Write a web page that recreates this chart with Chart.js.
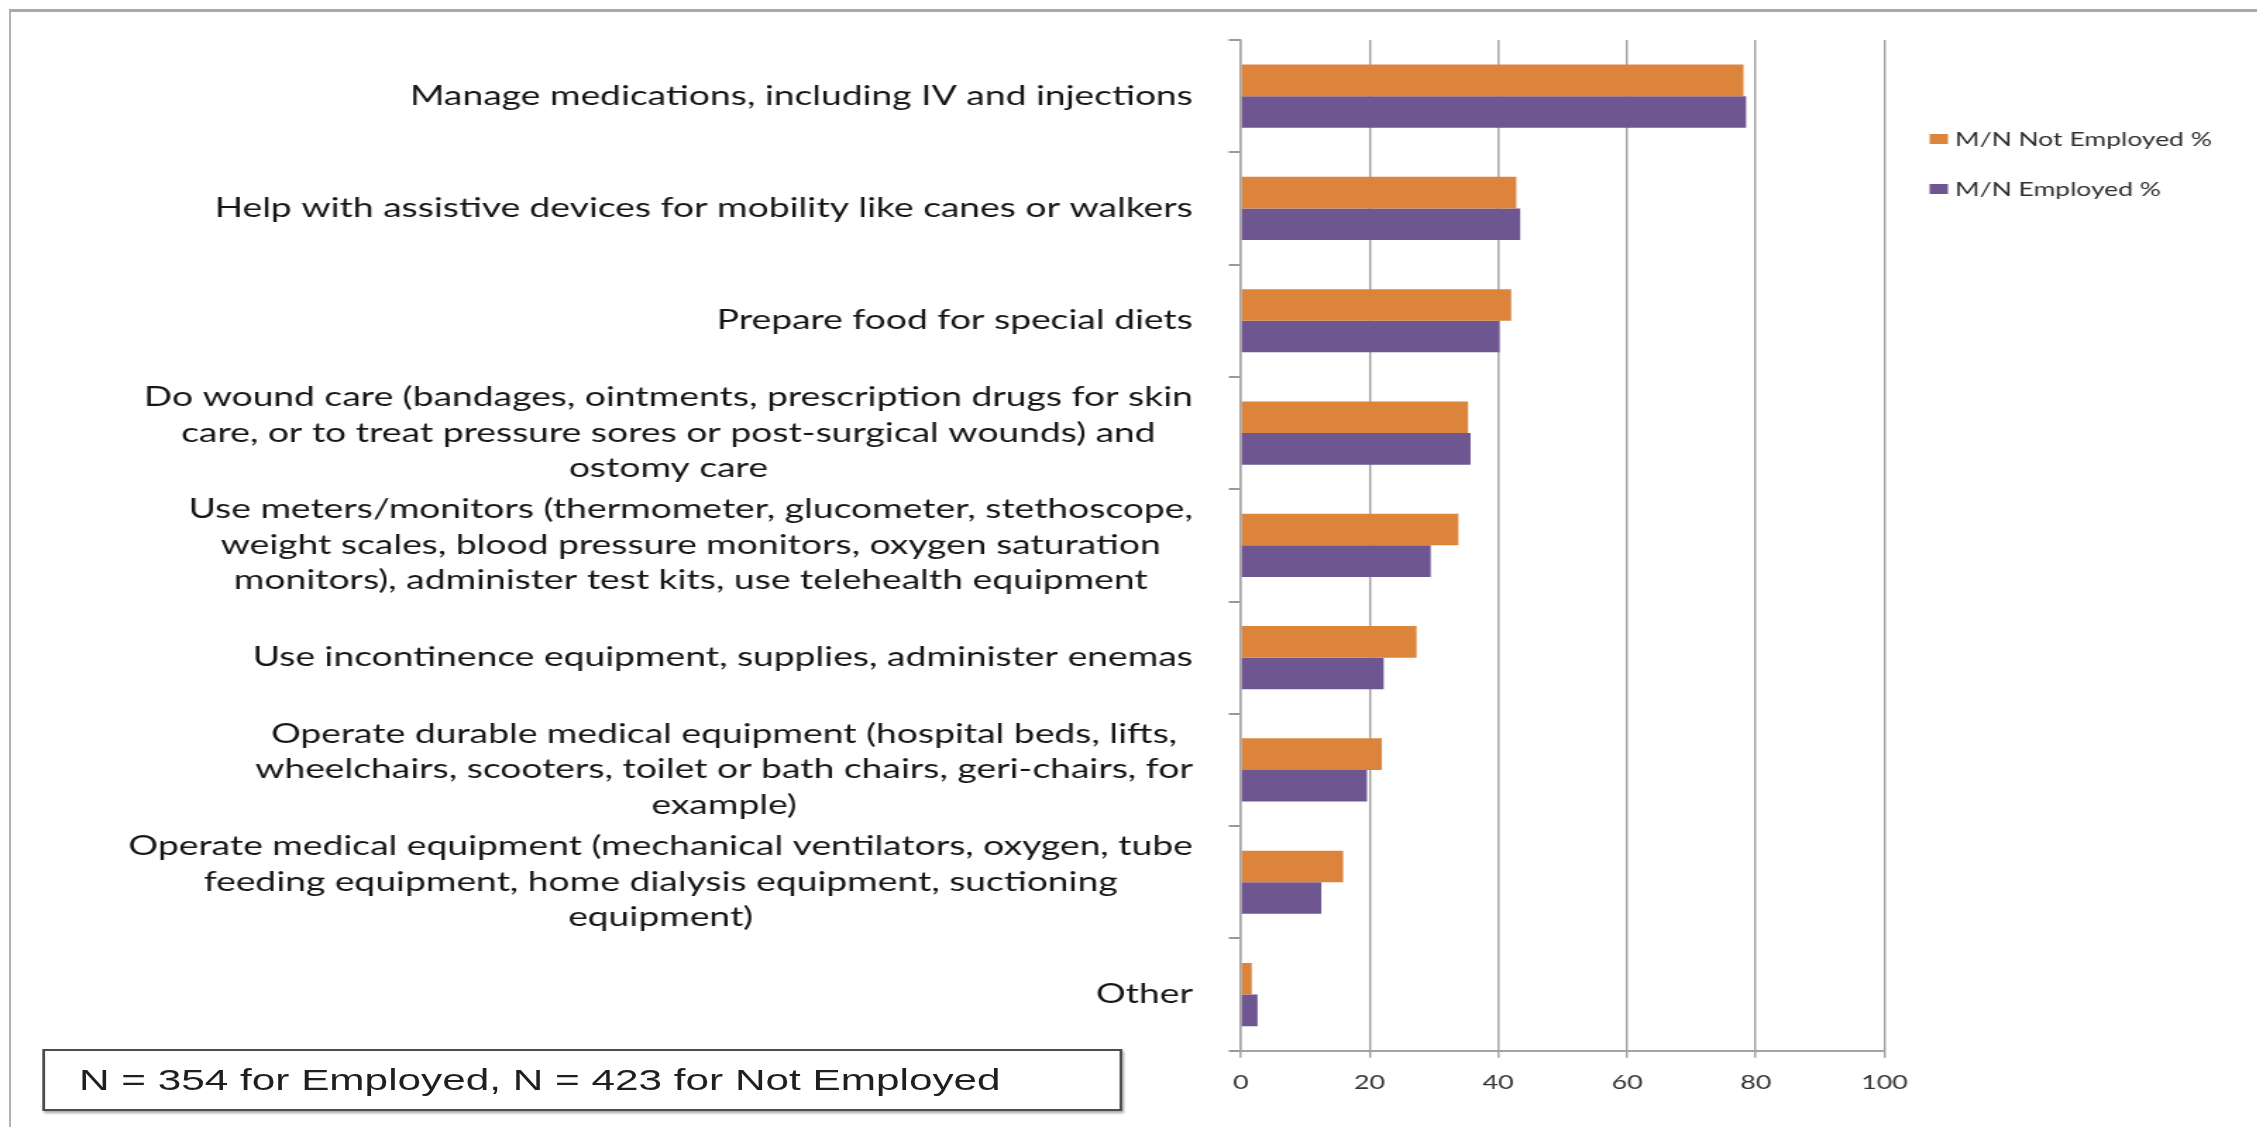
<!DOCTYPE html>
<html>
<head>
<meta charset="utf-8">
<title>Medical/nursing tasks by employment status</title>
<script src="https://cdn.jsdelivr.net/npm/chart.js@4.4.1/dist/chart.umd.min.js"></script>
<style>
    html, body { margin: 0; padding: 0; background: #fff; }
    body { width: 2257px; height: 1127px; position: relative; overflow: hidden; }
    #frame {
        position: absolute; left: 9px; top: 9px; width: 2300px; height: 1200px;
        border-top: 3px solid #a9a9a9; border-left: 2px solid #b3b3b3;
    }
    /* the source picture is stretched sideways, so the whole drawing is too */
    #stretch {
        position: absolute; left: 0; top: 0; width: 1601px; height: 1127px;
        transform: scaleX(1.41); transform-origin: 0 0;
    }
    #chartBox { position: absolute; left: 0; top: 0; width: 1601px; height: 1127px; }
    #note {
        position: absolute; left: 30px; top: 1049px; width: 766px; height: 62px;
        box-sizing: border-box; border: 2px solid #4d4d4d;
        box-shadow: 1px 2px 2px rgba(0, 0, 0, 0.35); background: #fff;
        font-family: "Liberation Sans", Arial, sans-serif; font-size: 30px; color: #1f1f1f;
        line-height: 58px; padding-left: 24px; white-space: nowrap;
    }
</style>
</head>
<body>
<div id="frame"></div>
<div id="stretch">
    <div id="chartBox"><canvas id="taskChart"></canvas></div>
    <div id="note">N = 354 for Employed, N = 423 for Not Employed</div>
</div>
<script>
// Chart data
const categories = [
    'Manage medications, including IV and injections',
    'Help with assistive devices for mobility like canes or walkers',
    'Prepare food for special diets',
    ['Do wound care (bandages, ointments, prescription drugs for skin',
     'care, or to treat pressure sores or post-surgical wounds) and',
     'ostomy care'],
    ['Use meters/monitors (thermometer, glucometer, stethoscope,',
     'weight scales, blood pressure monitors, oxygen saturation',
     'monitors), administer test kits, use telehealth equipment'],
    'Use incontinence equipment, supplies, administer enemas',
    ['Operate durable medical equipment (hospital beds, lifts,',
     'wheelchairs, scooters, toilet or bath chairs, geri-chairs, for',
     'example)'],
    ['Operate medical equipment (mechanical ventilators, oxygen, tube',
     'feeding equipment, home dialysis equipment, suctioning',
     'equipment)'],
    'Other'
];
const seriesNames = ['M/N Not Employed %', 'M/N Employed %'];
const notEmployed = [78.1, 42.8, 42.0, 35.3, 33.8, 27.3, 21.9, 15.9, 1.7];
const employed = [78.5, 43.4, 40.2, 35.7, 29.5, 22.2, 19.6, 12.5, 2.6];
const xTicks = [0, 20, 40, 60, 80, 100];

const seriesColors = ['#DC843C', '#6E5690'];
const gridColor = '#a3a3a3';

// Category labels: each block right aligned, its lines centred (Excel style)
const categoryLabels = {
    id: 'categoryLabels',
    afterDraw(chart) {
        const ctx = chart.ctx;
        const yScale = chart.scales.y;
        const right = chart.chartArea.left - 34;
        ctx.save();
        ctx.font = '26.4px Lato';
        ctx.fillStyle = '#161616';
        ctx.textAlign = 'center';
        ctx.textBaseline = 'middle';
        chart.data.labels.forEach((label, i) => {
            const lines = Array.isArray(label) ? label : [label];
            const widest = Math.max(...lines.map(l => ctx.measureText(l).width));
            const cx = right - widest / 2;
            const yc = yScale.getPixelForTick(i);
            lines.forEach((line, j) => {
                ctx.fillText(line, cx, yc + (j - (lines.length - 1) / 2) * 35.5);
            });
        });
        ctx.restore();
    }
};

// Legend to the right of the plot
const sideLegend = {
    id: 'sideLegend',
    afterDraw(chart) {
        const ctx = chart.ctx;
        const x = chart.chartArea.right + 32;
        ctx.save();
        ctx.font = '18.8px Lato';
        ctx.textBaseline = 'middle';
        ctx.textAlign = 'left';
        chart.data.datasets.forEach((ds, i) => {
            const y = 139 + i * 50;
            ctx.fillStyle = ds.backgroundColor;
            ctx.fillRect(x, y - 5, 13, 10);
            ctx.fillStyle = '#2e2e2e';
            ctx.fillText(ds.label, x + 18, y + 1);
        });
        ctx.restore();
    }
};

function initializeChart() {
    const ctx = document.getElementById('taskChart').getContext('2d');
    new Chart(ctx, {
        type: 'bar',
        data: {
            labels: categories,
            datasets: [{
                label: seriesNames[0],
                data: notEmployed,
                backgroundColor: seriesColors[0],
                categoryPercentage: 0.563,
                barPercentage: 1
            }, {
                label: seriesNames[1],
                data: employed,
                backgroundColor: seriesColors[1],
                categoryPercentage: 0.563,
                barPercentage: 1
            }]
        },
        options: {
            indexAxis: 'y',
            responsive: true,
            maintainAspectRatio: false,
            animation: false,
            layout: { padding: { top: 40, right: 264.5, left: 0, bottom: 0 } },
            plugins: {
                legend: { display: false },
                tooltip: { enabled: false }
            },
            scales: {
                x: {
                    min: 0,
                    max: 100,
                    afterBuildTicks: scale => { scale.ticks = xTicks.map(v => ({ value: v })); },
                    ticks: {
                        color: '#333',
                        font: { family: 'Lato', size: 19 },
                        padding: 14
                    },
                    grid: { color: gridColor, lineWidth: 1.45, tickLength: 7 },
                    border: { color: gridColor, width: 2 },
                    afterFit: scale => { scale.height = 76.3; }
                },
                y: {
                    ticks: { display: false },
                    grid: {
                        drawOnChartArea: false,
                        drawTicks: true,
                        tickLength: 8.5,
                        color: '#999',
                        lineWidth: 2,
                        offset: true
                    },
                    border: { color: gridColor, width: 1.45 },
                    afterFit: scale => { scale.width = 880; }
                }
            }
        },
        plugins: [categoryLabels, sideLegend]
    });
}

document.addEventListener('DOMContentLoaded', initializeChart);
</script>
</body>
</html>
